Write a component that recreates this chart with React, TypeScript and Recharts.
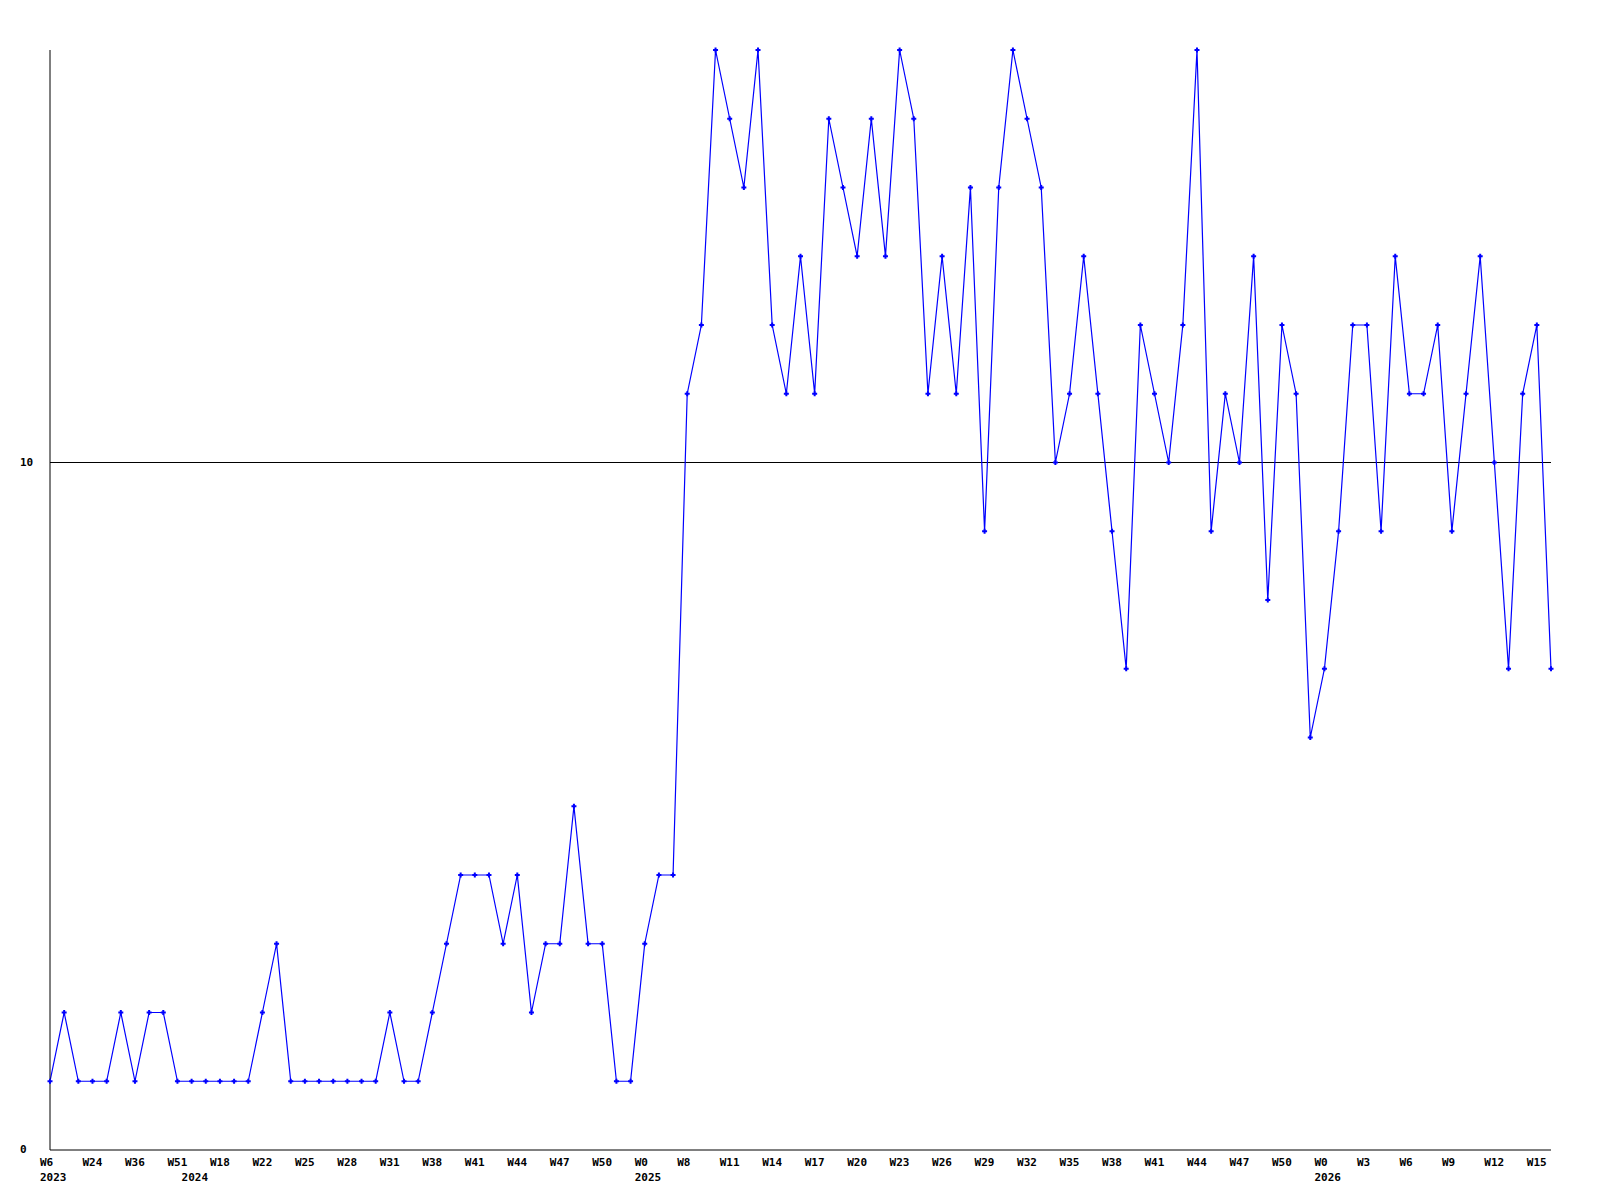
import { LineChart, Line, XAxis, YAxis, ReferenceLine } from "recharts";

// weekly values, oldest first
const values = [
  1, 2, 1, 1, 1, 2, 1, 2, 2, 1,
  1, 1, 1, 1, 1, 2, 3, 1, 1, 1,
  1, 1, 1, 1, 2, 1, 1, 2, 3, 4,
  4, 4, 3, 4, 2, 3, 3, 5, 3, 3,
  1, 1, 3, 4, 4, 11, 12, 16, 15, 14,
  16, 12, 11, 13, 11, 15, 14, 13, 15, 13,
  16, 15, 11, 13, 11, 14, 9, 14, 16, 15,
  14, 10, 11, 13, 11, 9, 7, 12, 11, 10,
  12, 16, 9, 11, 10, 13, 8, 12, 11, 6,
  7, 9, 12, 12, 9, 13, 11, 11, 12, 9,
  11, 13, 10, 7, 11, 12, 7,
];

// a week label on every third point
const weekLabels = [
  "W6", "W24", "W36", "W51", "W18", "W22", "W25", "W28", "W31", "W38",
  "W41", "W44", "W47", "W50", "W0", "W8", "W11", "W14", "W17", "W20",
  "W23", "W26", "W29", "W32", "W35", "W38", "W41", "W44", "W47", "W50",
  "W0", "W3", "W6", "W9", "W12", "W15",
];

// first point of each year
const yearStarts = [0, 10, 42, 90];
const years = ["2023", "2024", "2025", "2026"];

const yTicks = [0, 10];

const data = values.map((v, i) => ({
  i,
  value: v,
  week: i % 3 === 0 ? weekLabels[i / 3] : "",
  year: yearStarts.includes(i) ? years[yearStarts.indexOf(i)] : "",
}));

const FONT = "'DejaVu Sans Mono', 'Liberation Mono', monospace";

function WeekTick(props: any) {
  const { x, y, payload } = props;
  const row = data[payload.index];
  if (!row) return null;
  return (
    <g>
      {row.week && (
        <text x={x - 10} y={y + 16} textAnchor="start" fontFamily={FONT} fontWeight="bold" fontSize={11} fill="#000">
          {row.week}
        </text>
      )}
      {row.year && (
        <text x={x - 10} y={y + 31} textAnchor="start" fontFamily={FONT} fontWeight="bold" fontSize={11} fill="#000">
          {row.year}
        </text>
      )}
    </g>
  );
}

function ValueTick(props: any) {
  const { x, y, payload } = props;
  return (
    <text x={x - 30} y={y + 3} textAnchor="start" fontFamily={FONT} fontWeight="bold" fontSize={11} fill="#000">
      {payload.value}
    </text>
  );
}

function Marker(props: any) {
  const { cx, cy, index } = props;
  if (cx == null || cy == null) return <g key={index} />;
  return (
    <path
      key={index}
      d={`M${cx - 2.5},${cy} h5 M${cx},${cy - 2.5} v5`}
      stroke="#0000ff"
      strokeWidth={2}
      fill="none"
    />
  );
}

export default function App() {
  return (
    <div style={{ position: "absolute", left: 0, top: 0, width: 1600, height: 1200, background: "#fff" }}>
      <LineChart width={1600} height={1200} data={data} margin={{ top: 50, right: 49, left: 49, bottom: 49 }}>
        <XAxis
          dataKey="i"
          type="category"
          interval={0}
          height={1}
          tickSize={0}
          tickMargin={0}
          tickLine={false}
          axisLine={{ stroke: "#000", strokeWidth: 1 }}
          tick={<WeekTick />}
        />
        <YAxis
          type="number"
          domain={[0, 16]}
          ticks={yTicks}
          width={1}
          tickSize={0}
          tickMargin={0}
          tickLine={false}
          axisLine={{ stroke: "#000", strokeWidth: 1 }}
          tick={<ValueTick />}
        />
        <ReferenceLine y={10} stroke="#000" strokeWidth={1} />
        <Line
          type="linear"
          dataKey="value"
          stroke="#0000ff"
          strokeWidth={1.2}
          dot={Marker}
          activeDot={false}
          isAnimationActive={false}
        />
      </LineChart>
    </div>
  );
}
